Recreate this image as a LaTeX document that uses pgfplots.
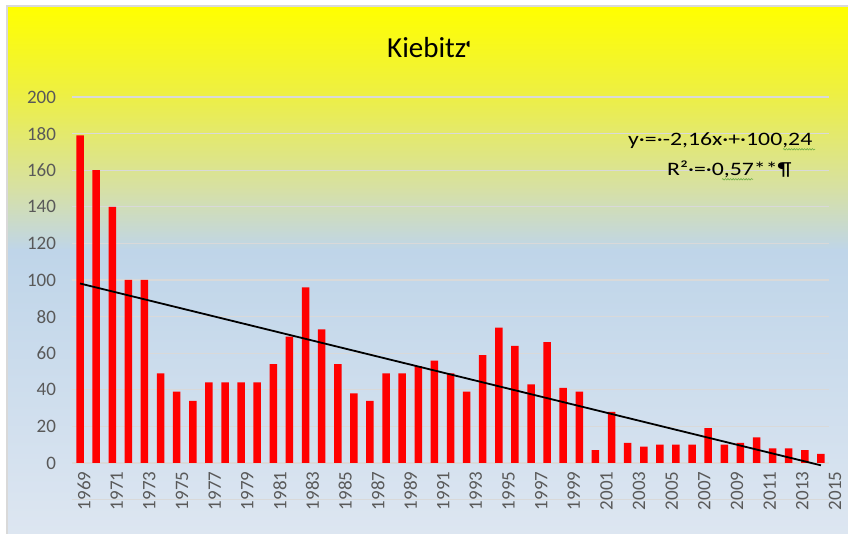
\documentclass[border=0pt]{standalone}
\usepackage{pgfplots}
\pgfplotsset{compat=1.18}
\usepackage{pgfplotstable}
\usepackage{fontspec}
\setmainfont{Carlito}
\newfontfamily\widefont[FakeStretch=1.25]{Carlito}
\newfontfamily\symfont{DejaVu Sans}
\usetikzlibrary{decorations.pathmorphing}
\definecolor{gridc}{HTML}{D9D9D9}
\definecolor{tickc}{HTML}{595959}
\definecolor{c1}{HTML}{FFFF00}
\definecolor{c2}{HTML}{EEF040}
\definecolor{c3}{HTML}{D6E0A6}
\definecolor{c4}{HTML}{BFD5E9}
\definecolor{c5}{HTML}{DDE6F1}
\definecolor{wavy}{HTML}{70AD47}
\pgfplotstableread{
idx year val
1 1969 179
2 1970 160
3 1971 140
4 1972 100
5 1973 100
6 1974 49
7 1975 39
8 1976 34
9 1977 44
10 1978 44
11 1979 44
12 1980 44
13 1981 54
14 1982 69
15 1983 96
16 1984 73
17 1985 54
18 1986 38
19 1987 34
20 1988 49
21 1989 49
22 1990 53
23 1991 56
24 1992 49
25 1993 39
26 1994 59
27 1995 74
28 1996 64
29 1997 43
30 1998 66
31 1999 41
32 2000 39
33 2001 7
34 2002 28
35 2003 11
36 2004 9
37 2005 10
38 2006 10
39 2007 10
40 2008 19
41 2009 10
42 2010 11
43 2011 14
44 2012 8
45 2013 8
46 2014 7
47 2015 5
}\kiebitz
\begin{document}
\begin{tikzpicture}
\useasboundingbox (0bp,0bp) rectangle (848bp,534bp);
% background gradient
\fill[top color=c1, bottom color=c2] (8bp,527bp) rectangle (848bp,443.5bp);
\fill[top color=c2, bottom color=c3] (8bp,444bp) rectangle (848bp,343.5bp);
\fill[top color=c3, bottom color=c4] (8bp,344bp) rectangle (848bp,283.5bp);
\fill[top color=c4, bottom color=c5] (8bp,284bp) rectangle (848bp,0bp);
\draw[gridc, line width=2bp] (7bp,0bp) -- (7bp,528bp) -- (848bp,528bp);
% main axis
\begin{axis}[at={(72bp,34.4bp)}, anchor=south west, scale only axis,
  width=757bp, height=402.6bp,
  xmin=0.5, xmax=47.5, ymin=-20, ymax=200,
  axis line style={draw=none},
  xtick=\empty,
  ytick={-20,0,20,40,60,80,100,120,140,160,180,200},
  yticklabels={,0,20,40,60,80,100,120,140,160,180,200},
  ymajorgrids, grid style={gridc, line width=1.3bp},
  major tick length=0pt,
  /pgf/number format/assume math mode=true,
  yticklabel style={font=\fontsize{19bp}{22bp}\selectfont, text=tickc, anchor=east, xshift=-12.5bp}]
\addplot[ybar, bar width=7.5bp, fill=red, draw=none] table[x=idx,y=val]{\kiebitz};
\addplot[black, line width=1.8bp, no marks] coordinates {(1,98.08) (47,-1.28)};
\end{axis}
% x tick labels axis (Word-rendered label spacing)
\begin{axis}[at={(72bp,71bp)}, anchor=south west, scale only axis,
  width=800bp, height=100bp,
  xmin=0, xmax=800, ymin=0, ymax=1,
  axis line style={draw=none},
  ytick=\empty,
  xtick={12,44.65,77.3,109.95,142.6,175.25,207.9,240.55,273.2,305.85,338.5,371.15,403.8,436.45,469.1,501.75,534.4,567.05,599.7,632.35,665,697.65,730.3,762.95},
  xticklabels={1969,1971,1973,1975,1977,1979,1981,1983,1985,1987,1989,1991,1993,1995,1997,1999,2001,2003,2005,2007,2009,2011,2013,2015},
  major tick length=0pt,
  /pgf/number format/assume math mode=true,
  xticklabel style={font=\fontsize{19bp}{22bp}\selectfont, text=tickc, rotate=90, anchor=east, xshift=-5bp}]
\end{axis}
% title
\node[anchor=base west, inner sep=0, font=\fontsize{29bp}{34bp}\selectfont] at (387bp,476.3bp) {Kiebitz};
\node[anchor=base west, inner sep=0, font=\symfont\fontsize{8bp}{8bp}\selectfont] at (466bp,487bp) {◖};
% regression annotation
\node[anchor=base west, inner sep=0, font=\widefont\fontsize{19bp}{22bp}\selectfont] at (628bp,388.3bp) {y·=·-2,16x·+·100,24};
\node[anchor=base west, inner sep=0, font=\widefont\fontsize{19bp}{22bp}\selectfont] at (667bp,358.3bp) {R²·=·0,57**¶};
\draw[wavy, line width=0.6bp, decorate, decoration={snake, amplitude=0.7bp, segment length=2.6bp}] (783bp,384.7bp) -- (815bp,384.7bp);
\draw[wavy, line width=0.6bp, decorate, decoration={snake, amplitude=0.7bp, segment length=2.6bp}] (722bp,354.7bp) -- (753bp,354.7bp);
\end{tikzpicture}
\end{document}
